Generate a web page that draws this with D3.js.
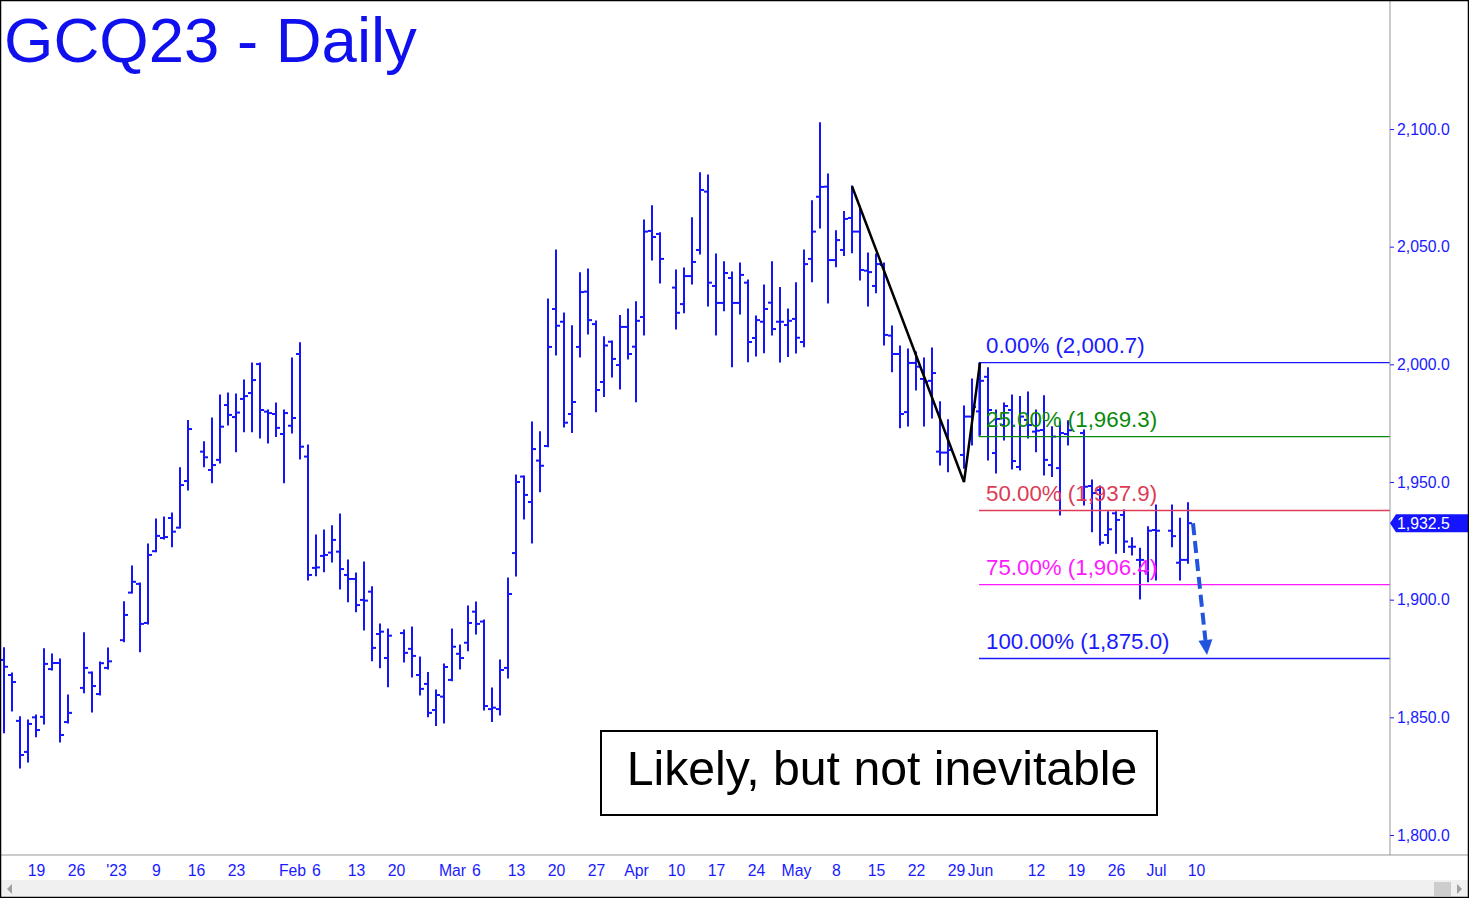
<!DOCTYPE html>
<html><head><meta charset="utf-8">
<script src="https://cdn.jsdelivr.net/npm/d3@7"></script>
<style>html,body{margin:0;padding:0;background:#fff;overflow:hidden} svg{display:block;font-family:"Liberation Sans",Arial,sans-serif;}</style>
</head><body><svg id="c" width="1469" height="898"></svg>
<script>
// ---- data (daily OHLC, GCQ23) ----
const dates = ["2022-12-13","2022-12-14","2022-12-15","2022-12-16","2022-12-19","2022-12-20","2022-12-21","2022-12-22","2022-12-23","2022-12-27","2022-12-28","2022-12-29","2022-12-30",
"2023-01-03","2023-01-04","2023-01-05","2023-01-06","2023-01-09","2023-01-10","2023-01-11","2023-01-12","2023-01-13","2023-01-17","2023-01-18","2023-01-19","2023-01-20","2023-01-23","2023-01-24","2023-01-25","2023-01-26","2023-01-27","2023-01-30","2023-01-31",
"2023-02-01","2023-02-02","2023-02-03","2023-02-06","2023-02-07","2023-02-08","2023-02-09","2023-02-10","2023-02-13","2023-02-14","2023-02-15","2023-02-16","2023-02-17","2023-02-21","2023-02-22","2023-02-23","2023-02-24","2023-02-27","2023-02-28",
"2023-03-01","2023-03-02","2023-03-03","2023-03-06","2023-03-07","2023-03-08","2023-03-09","2023-03-10","2023-03-13","2023-03-14","2023-03-15","2023-03-16","2023-03-17","2023-03-20","2023-03-21","2023-03-22","2023-03-23","2023-03-24","2023-03-27","2023-03-28","2023-03-29","2023-03-30","2023-03-31",
"2023-04-03","2023-04-04","2023-04-05","2023-04-06","2023-04-10","2023-04-11","2023-04-12","2023-04-13","2023-04-14","2023-04-17","2023-04-18","2023-04-19","2023-04-20","2023-04-21","2023-04-24","2023-04-25","2023-04-26","2023-04-27","2023-04-28",
"2023-05-01","2023-05-02","2023-05-03","2023-05-04","2023-05-05","2023-05-08","2023-05-09","2023-05-10","2023-05-11","2023-05-12","2023-05-15","2023-05-16","2023-05-17","2023-05-18","2023-05-19","2023-05-22","2023-05-23","2023-05-24","2023-05-25","2023-05-26","2023-05-30","2023-05-31",
"2023-06-01","2023-06-02","2023-06-05","2023-06-06","2023-06-07","2023-06-08","2023-06-09","2023-06-12","2023-06-13","2023-06-14","2023-06-15","2023-06-16","2023-06-20","2023-06-21","2023-06-22","2023-06-23","2023-06-26","2023-06-27","2023-06-28","2023-06-29","2023-06-30",
"2023-07-03","2023-07-05","2023-07-06","2023-07-07"];
const opens = [1874.4,1868.0,1848.5,1835.3,1850.0,1850.2,1870.5,1873.1,1848.0,1862.5,1869.0,1859.9,1871.0,
1882.8,1903.0,1906.7,1890.1,1920.6,1926.2,1934.7,1930.6,1950.4,1962.9,1955.1,1959.4,1982.7,1977.6,1985.3,1987.8,2000.1,1979.9,1978.9,1970.4,
1973.9,2004.4,1960.8,1913.5,1918.6,1920.0,1920.4,1910.5,1908.8,1899.9,1903.4,1885.4,1875.2,1885.8,1879.1,1868.0,1864.2,1853.1,1858.8,
1865.9,1877.0,1881.7,1894.9,1890.7,1853.5,1853.5,1871.0,1919.8,1952.3,1941.5,1959.1,1965.3,2023.5,2018.1,1978.9,2007.4,2030.9,2017.1,1992.5,2009.6,1999.7,2015.9,
2007.5,2020.1,2056.7,2055.4,2032.6,2025.6,2037.5,2048.6,2073.4,2033.3,2026.1,2036.7,2026.1,2034.7,2011.2,2018.1,2026.2,2018.1,2016.7,
2019.3,2009.5,2044.8,2071.2,2075.5,2044.3,2048.6,2062.2,2056.4,2039.8,2033.3,2042.2,2012.2,2004.4,1979.7,2000.6,1993.8,1993.0,1962.9,1962.5,1961.5,1977.8,
1980.0,1994.7,1962.3,1974.2,1980.6,1956.4,1976.4,1971.4,1972.1,1957.2,1955.9,1970.4,1970.8,1948.3,1946.6,1927.5,1936.7,1936.0,1922.5,1916.9,1912.0,
1929.6,1929.3,1915.7,1916.9];
const highs = [1879.6,1868.8,1850.2,1848.9,1851.0,1879.1,1876.9,1874.8,1859.5,1885.9,1869.3,1873.5,1879.5,
1899.1,1914.3,1907.1,1923.7,1934.3,1935.1,1936.8,1956.1,1976.1,1967.1,1977.2,1987.0,1987.8,1987.4,1993.3,2000.6,2000.6,1980.6,1983.6,1980.6,
2002.7,2009.2,1965.7,1927.5,1929.6,1931.4,1936.4,1916.9,1911.3,1916.0,1905.5,1889.7,1887.5,1887.1,1888.4,1875.6,1869.0,1861.6,1872.7,
1887.5,1880.7,1897.3,1899.0,1891.4,1862.5,1874.4,1909.2,1953.0,1952.6,1975.5,1971.3,2027.8,2048.6,2021.8,2016.4,2038.9,2040.5,2018.4,2011.7,2009.9,2020.7,2023.5,
2026.6,2061.3,2067.4,2055.9,2040.1,2040.9,2062.3,2081.4,2080.5,2046.9,2043.6,2039.2,2043.1,2035.8,2020.5,2033.7,2043.6,2032.6,2023.5,
2034.7,2048.6,2069.5,2102.7,2080.9,2056.8,2064.9,2075.8,2067.0,2047.3,2046.9,2043.1,2016.3,2007.8,2006.5,2005.2,2002.7,2006.9,1984.1,1976.4,1982.3,1993.8,
2000.7,1998.5,1980.6,1983.6,1987.0,1986.3,1988.2,1980.6,1986.7,1973.5,1975.6,1976.0,1972.1,1950.9,1948.3,1937.4,1937.4,1938.1,1926.3,1921.8,1931.0,
1940.2,1940.2,1934.6,1941.2];
const lows = [1843.5,1852.7,1828.5,1831.0,1841.7,1847.2,1870.1,1839.5,1847.6,1860.4,1852.3,1859.5,1870.5,
1882.1,1902.8,1877.9,1889.7,1920.4,1925.8,1922.5,1930.5,1946.6,1956.5,1949.7,1958.1,1974.2,1962.9,1971.3,1971.4,1968.7,1966.6,1969.3,1949.7,
1970.8,1959.8,1908.4,1910.2,1911.9,1916.0,1904.5,1899.1,1894.9,1887.1,1874.0,1871.1,1863.0,1873.5,1867.1,1859.5,1850.3,1846.5,1847.6,
1865.5,1870.5,1878.3,1885.4,1853.1,1848.2,1851.0,1866.7,1910.1,1934.3,1924.1,1945.9,1965.0,2004.0,1973.4,1971.0,2003.1,2012.9,1979.9,1986.3,1994.6,1989.5,2002.3,
1984.1,2012.5,2044.3,2034.6,2015.0,2021.9,2034.1,2046.9,2024.8,2012.5,2022.8,1999.0,2021.4,2001.1,2003.5,2004.9,2012.5,2001.0,2003.3,
2004.8,2007.5,2035.1,2057.9,2026.1,2041.5,2046.2,2047.4,2035.8,2024.8,2030.4,2008.2,1996.9,1973.0,1973.8,1989.1,1973.8,1977.2,1957.2,1954.4,1955.8,1965.7,
1970.0,1959.4,1953.8,1967.9,1955.5,1955.1,1968.7,1962.9,1953.0,1952.3,1936.0,1965.7,1940.2,1928.9,1923.2,1923.9,1919.7,1920.0,1919.0,1900.3,1907.6,
1908.4,1922.5,1908.4,1915.5];
const closes = [1871.5,1865.0,1834.0,1847.2,1844.6,1872.7,1873.1,1842.5,1851.9,1871.0,1863.3,1873.0,1873.8,
1893.5,1907.6,1889.7,1919.0,1927.1,1926.6,1928.9,1948.7,1972.5,1960.5,1957.2,1973.5,1978.5,1979.5,1986.5,1993.3,1980.6,1979.3,1973.0,1979.3,
1977.2,1965.0,1910.5,1913.7,1919.0,1925.4,1913.0,1908.8,1897.7,1899.6,1879.5,1886.4,1884.7,1877.4,1876.1,1862.1,1851.9,1859.5,1871.4,
1880.0,1875.2,1890.1,1889.7,1854.8,1854.1,1870.1,1902.4,1950.0,1944.5,1964.0,1956.9,2007.4,2016.4,1975.2,1984.0,2030.7,2018.8,1989.1,2008.0,2002.3,2015.9,2004.4,
2018.5,2056.4,2054.1,2044.8,2021.9,2037.5,2043.5,2074.1,2034.7,2026.1,2038.8,2026.1,2038.0,2009.5,2018.8,2023.5,2015.0,2018.1,2018.5,
2011.3,2042.6,2056.4,2075.4,2044.3,2052.8,2061.8,2056.4,2040.1,2039.2,2042.6,2012.5,2004.4,1978.9,2000.6,1999.0,1992.6,1996.3,1962.5,1963.6,1977.8,1981.9,
1993.0,1980.6,1976.8,1982.3,1958.9,1977.8,1974.2,1971.8,1959.4,1969.3,1970.8,1972.0,1948.0,1945.3,1924.2,1929.9,1933.9,1924.7,1922.5,1916.9,1929.3,
1929.3,1927.0,1916.9,1932.5];

// ABC pattern (A high, B low, C high)
const abcDates = ["2023-05-10","2023-05-30","2023-06-01"];
const abcPrices = [2075.7, 1950.0, 2000.7];
// Fibonacci-style target levels
const fibLabels = ["0.00%","25.00%","50.00%","75.00%","100.00%"];
const fibValues = [2000.7, 1969.3, 1937.9, 1906.4, 1875.0];
const fibColors = ["#1a1aff","#0a8a0a","#dc3c55","#ff1aff","#1a1aff"];
const fibStart = "2023-06-01";

// axis ticks
const yTicks = [1800,1850,1900,1950,2000,2050,2100];
const xTickDates = ["2022-12-19","2022-12-26","2023-01-02","2023-01-09","2023-01-16","2023-01-23","2023-02-01","2023-02-06","2023-02-13","2023-02-20","2023-03-01","2023-03-06","2023-03-13","2023-03-20","2023-03-27","2023-04-03","2023-04-10","2023-04-17","2023-04-24","2023-05-01","2023-05-08","2023-05-15","2023-05-22","2023-05-29","2023-06-01","2023-06-12","2023-06-19","2023-06-26","2023-07-03","2023-07-10"];
const xTickLabels = ["19","26","'23","9","16","23","Feb","6","13","20","Mar","6","13","20","27","Apr","10","17","24","May","8","15","22","29","Jun","12","19","26","Jul","10"];

const lastPrice = 1932.5;
const title = "GCQ23 - Daily";
const note = "Likely, but not inevitable";

// ---- helpers ----
const base = Date.UTC(2022,11,19);
function wd(s){const [Y,M,D]=s.split("-").map(Number);const days=Math.round((Date.UTC(Y,M-1,D)-base)/864e5);const w=Math.floor(days/7);return w*5+(days-w*7);}

const W=1469,H=898, plotRight=1390, axisY=855;
const svg=d3.select("#c");
const x=d3.scaleLinear().domain([-4.5,169.25]).range([0,plotRight]);
const y=d3.scaleLinear().domain([1800,2100]).range([835,129]);
const blue="#1414ff";

svg.append("rect").attr("width",W).attr("height",H).attr("fill","#fff");

// bars
const bars = dates.map((d,i)=>({d,o:opens[i],h:highs[i],l:lows[i],c:closes[i],xi:x(wd(d))}));
const g=svg.append("g").attr("stroke",blue).attr("stroke-width",2).attr("fill","none");
g.selectAll("line.hl").data(bars).join("line").attr("class","hl")
 .attr("x1",b=>b.xi).attr("x2",b=>b.xi).attr("y1",b=>y(b.h)-0.5).attr("y2",b=>y(b.l)+0.5);
g.selectAll("line.o").data(bars).join("line").attr("class","o")
 .attr("x1",b=>b.xi-4).attr("x2",b=>b.xi).attr("y1",b=>y(b.o)).attr("y2",b=>y(b.o));
g.selectAll("line.c").data(bars).join("line").attr("class","c")
 .attr("x1",b=>b.xi).attr("x2",b=>b.xi+4).attr("y1",b=>y(b.c)).attr("y2",b=>y(b.c));

// fib lines
const fx=x(wd(fibStart))-1;
svg.append("line").attr("x1",fx).attr("x2",fx).attr("y1",y(fibValues[0])).attr("y2",y(fibValues[1])).attr("stroke","#1a1aff").attr("stroke-width",1.2);
fibValues.forEach((v,i)=>{
  svg.append("line").attr("x1",fx).attr("x2",plotRight).attr("y1",y(v)).attr("y2",y(v))
    .attr("stroke",fibColors[i]).attr("stroke-width",1.3);
  svg.append("text").attr("x",fx+7).attr("y",y(v)-9.5).attr("fill",fibColors[i])
    .attr("font-size",22.3).text(fibLabels[i]+" ("+d3.format(",.1f")(v)+")");
});

// ABC line
svg.append("path").attr("d",d3.line()(abcDates.map((d,i)=>[x(wd(d)),y(abcPrices[i])])))
  .attr("fill","none").attr("stroke","#000").attr("stroke-width",2.5);

// dashed projection arrow
const lastX=x(wd(dates[dates.length-1]));
const ax1=lastX+5, ay1=y(lastPrice), ax2=lastX+19, ay2=y(1876.5);
const ang=Math.atan2(ay2-ay1,ax2-ax1);
const hl=15, hw=7;
const bx=ax2-hl*Math.cos(ang), by=ay2-hl*Math.sin(ang);
svg.append("line").attr("x1",ax1).attr("y1",ay1).attr("x2",bx).attr("y2",by)
  .attr("stroke","#2255dd").attr("stroke-width",4).attr("stroke-dasharray","12,6");
svg.append("path").attr("d",`M${ax2},${ay2}L${bx-hw*Math.sin(ang)},${by+hw*Math.cos(ang)}L${bx+hw*Math.sin(ang)},${by-hw*Math.cos(ang)}Z`)
  .attr("fill","#2255dd");

// axes
svg.append("line").attr("x1",plotRight).attr("x2",plotRight).attr("y1",0).attr("y2",axisY).attr("stroke","#999");
svg.append("line").attr("x1",0).attr("x2",W).attr("y1",axisY).attr("y2",axisY).attr("stroke","#999");
const ya=svg.append("g").attr("transform",`translate(${plotRight},0)`)
  .call(d3.axisRight(y).tickValues(yTicks).tickFormat(d3.format(",.1f")).tickSize(4).tickPadding(3));
ya.select(".domain").remove();
ya.selectAll("line").attr("stroke","#1a1aff");
ya.selectAll("text").attr("fill","#1a1aff").attr("font-size",15.8).attr("font-family","Liberation Sans, Arial, sans-serif");

const xa=svg.append("g").attr("transform",`translate(0,${axisY})`)
  .call(d3.axisBottom(x).tickValues(xTickDates.map(wd)).tickFormat((d,i)=>xTickLabels[i]).tickSize(0).tickPadding(10));
xa.select(".domain").remove();
xa.selectAll("text").attr("fill","#1a1aff").attr("font-size",15.8).attr("font-family","Liberation Sans, Arial, sans-serif");

// last price tag
const ly=y(lastPrice);
svg.append("path").attr("d",`M${plotRight},${ly}L${plotRight+6},${ly-9}L${W},${ly-9}L${W},${ly+9}L${plotRight+6},${ly+9}Z`).attr("fill",blue);
svg.append("text").attr("x",plotRight+7).attr("y",ly+5.5).attr("fill","#fff").attr("font-size",15.8).text(d3.format(",.1f")(lastPrice));

// title
svg.append("text").attr("x",4).attr("y",62).attr("fill","#1010ee").attr("font-size",63.5).text(title);

// note box
svg.append("rect").attr("x",601).attr("y",731).attr("width",556).attr("height",84).attr("fill","#fff").attr("stroke","#000").attr("stroke-width",2);
svg.append("text").attr("x",882).attr("y",785).attr("text-anchor","middle").attr("fill","#000").attr("font-size",48.2).text(note);

// scrollbar
svg.append("rect").attr("x",0).attr("y",880).attr("width",W).attr("height",18).attr("fill","#f0f0f0");
svg.append("path").attr("d","M7,889L12,884L12,894Z").attr("fill","#a0a0a0");
svg.append("rect").attr("x",1434).attr("y",882).attr("width",17).attr("height",14).attr("fill","#cdcdcd");
svg.append("path").attr("d","M1462,889L1457,884L1457,894Z").attr("fill","#a0a0a0");

// border
svg.append("rect").attr("x",0.5).attr("y",0.5).attr("width",W-1).attr("height",H-1).attr("fill","none").attr("stroke","#000").attr("stroke-width",1.5);
</script></body></html>
